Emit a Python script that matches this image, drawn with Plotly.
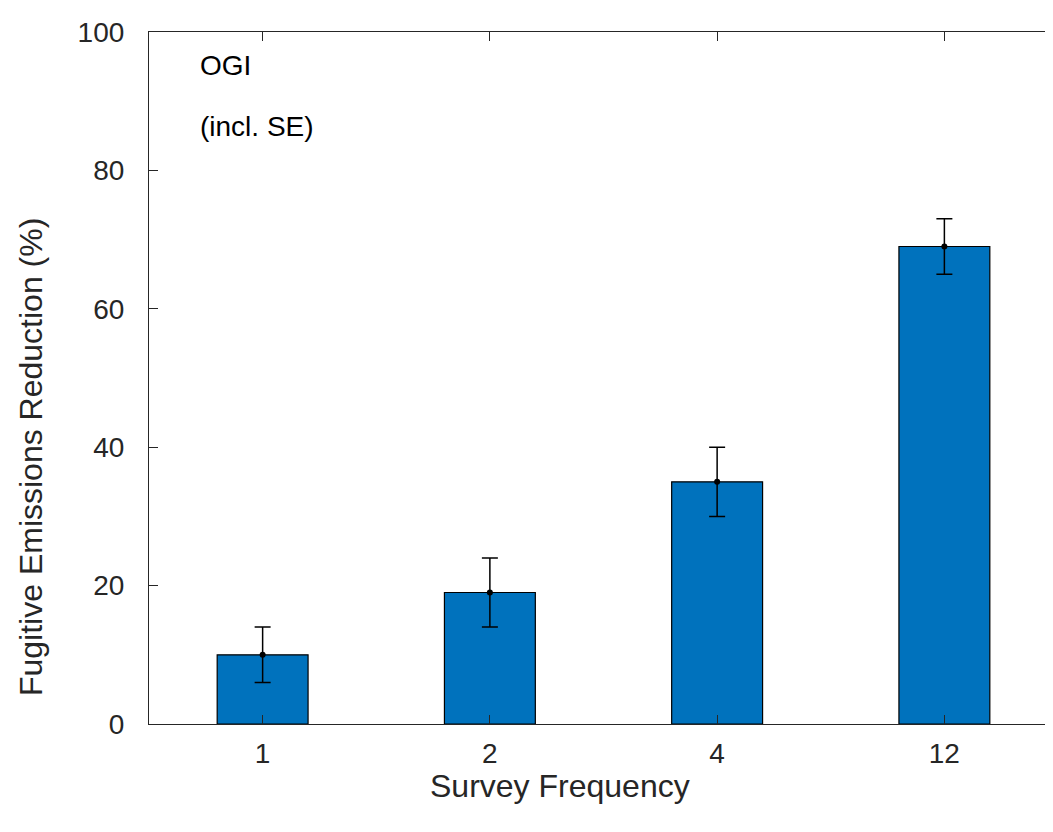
import plotly.graph_objects as go

categories = ["1", "2", "4", "12"]
reduction = [10, 19, 35, 69]
se_upper = [4, 5, 5, 4]
se_lower = [4, 5, 5, 4]
y_ticks = [0, 20, 40, 60, 80, 100]

AX = "#262626"
FONT = "Liberation Sans, Arial, Helvetica, sans-serif"

fig = go.Figure()
fig.add_trace(go.Bar(
    x=categories, y=reduction, width=0.4,
    marker=dict(color="#0072BD", line=dict(color="black", width=1.2)),
    error_y=dict(type="data", symmetric=False, array=se_upper, arrayminus=se_lower,
                 color="black", thickness=1.5, width=8),
    showlegend=False,
))
fig.add_trace(go.Scatter(
    x=categories, y=reduction, mode="markers",
    marker=dict(color="black", size=6), showlegend=False, hoverinfo="skip",
))

fig.add_annotation(text="OGI", xref="paper", yref="y", x=0.0539, y=95.1,
                   xanchor="left", yanchor="middle", showarrow=False,
                   font=dict(family=FONT, size=28, color="black"))
fig.add_annotation(text="(incl. SE)", xref="paper", yref="y", x=0.0539, y=86.4,
                   xanchor="left", yanchor="middle", showarrow=False,
                   font=dict(family=FONT, size=28, color="black"))

# axis titles
fig.add_annotation(text="Survey Frequency", xref="paper", yref="paper",
                   x=0.4521, y=-0.0896, xanchor="center", yanchor="middle",
                   showarrow=False, font=dict(family=FONT, size=32, color=AX))
fig.add_annotation(text="Fugitive Emissions Reduction (%)", xref="paper", yref="paper",
                   x=-0.1298, y=0.3858, xanchor="center", yanchor="middle",
                   textangle=-90, showarrow=False,
                   font=dict(family=FONT, size=32, color=AX))

fig.update_layout(
    width=1053, height=832,
    margin=dict(l=141, r=3, t=24, b=116, autoexpand=False),
    paper_bgcolor="white", plot_bgcolor="white",
    font=dict(family=FONT, size=28, color=AX),
)
fig.update_xaxes(
    type="category", range=[-0.5, 3.5],
    showline=True, linecolor=AX, linewidth=1.2, mirror="ticks",
    ticks="inside", ticklen=9, tickwidth=1, tickcolor=AX,
    showgrid=False, zeroline=False, ticklabelstandoff=4,
)
fig.update_yaxes(
    range=[0, 100], tickvals=y_ticks,
    showline=True, linecolor=AX, linewidth=1.2, mirror="ticks",
    ticks="inside", ticklen=9, tickwidth=1, tickcolor=AX,
    showgrid=False, zeroline=False, ticklabelstandoff=18,
)

fig.write_html("out.html")
